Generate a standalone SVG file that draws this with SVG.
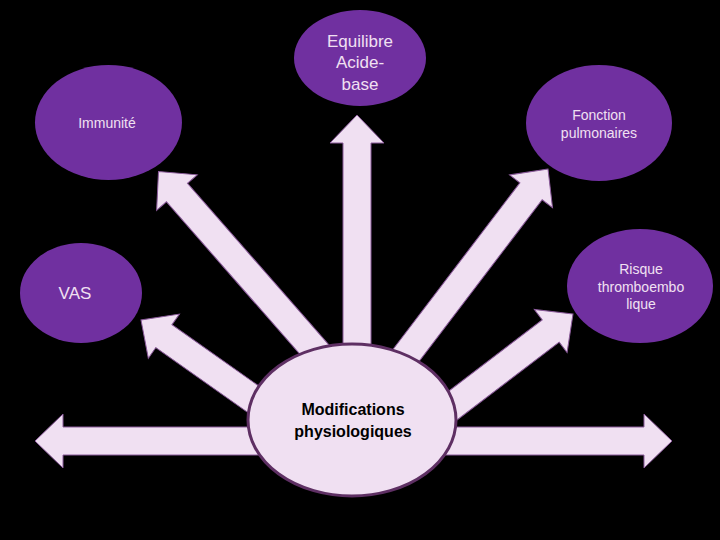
<svg xmlns="http://www.w3.org/2000/svg" width="720" height="540" viewBox="0 0 720 540">
  <style>
    .arrow { fill: #f0e0f2; stroke: #8a5a9a; stroke-width: 1; }
    .sat { fill: #7030a0; }
    .sat-text { fill: #f0e0f2; font-family: "Liberation Sans", Arial, sans-serif; text-anchor: middle; dominant-baseline: central; }
    .center { fill: #f0e0f2; stroke: #5e2f63; stroke-width: 3; }
    .center-text { fill: #000000; font-family: "Liberation Sans", Arial, sans-serif; font-weight: bold; font-size: 16px; text-anchor: middle; dominant-baseline: central; }
  </style>
  <rect x="0" y="0" width="720" height="540" fill="#000000"/>
  <g id="connectors">
    <path class="arrow" d="M35,441 L63,414 L63,427 L644,427 L644,414 L672,441 L644,468 L644,455 L63,455 L63,468 Z"/>
    <path class="arrow" transform="translate(357,115) rotate(-90)" d="M0,0 L-28,-27 L-28,-14 L-285,-14 L-285,14 L-28,14 L-28,27 Z"/>
    <path class="arrow" transform="translate(158.5,171.5) rotate(228.8)" d="M0,0 L-28,-27 L-28,-14 L-280,-14 L-280,14 L-28,14 L-28,27 Z"/>
    <path class="arrow" transform="translate(548,169) rotate(-52.7)" d="M0,0 L-28,-27 L-28,-14 L-270,-14 L-270,14 L-28,14 L-28,27 Z"/>
    <path class="arrow" transform="translate(141,320) rotate(215.2)" d="M0,0 L-28,-27 L-28,-14 L-220,-14 L-220,14 L-28,14 L-28,27 Z"/>
    <path class="arrow" transform="translate(573,314) rotate(-37.3)" d="M0,0 L-28,-27 L-28,-14 L-230,-14 L-230,14 L-28,14 L-28,27 Z"/>
  </g>
  <g id="node-center">
    <ellipse class="center" cx="352" cy="420" rx="104" ry="76"/>
    <text class="center-text" x="353" y="409">Modifications</text>
    <text class="center-text" x="353" y="431">physiologiques</text>
  </g>
  <g id="node-equilibre">
    <ellipse class="sat" cx="360" cy="58" rx="66" ry="48"/>
    <text class="sat-text" font-size="17" x="360" y="41">Equilibre</text>
    <text class="sat-text" font-size="17" x="360" y="62">Acide-</text>
    <text class="sat-text" font-size="17" x="360" y="84">base</text>
  </g>
  <g id="node-immunite">
    <ellipse class="sat" cx="108.5" cy="122.5" rx="73.5" ry="57.5"/>
    <text class="sat-text" font-size="14" x="107" y="123">Immunité</text>
  </g>
  <g id="node-fonction">
    <ellipse class="sat" cx="599" cy="123" rx="73" ry="58"/>
    <text class="sat-text" font-size="14" x="599" y="115">Fonction</text>
    <text class="sat-text" font-size="14" x="599" y="133">pulmonaires</text>
  </g>
  <g id="node-vas">
    <ellipse class="sat" cx="81" cy="293" rx="61" ry="50"/>
    <text class="sat-text" font-size="17" x="75" y="293">VAS</text>
  </g>
  <g id="node-risque">
    <ellipse class="sat" cx="640" cy="286" rx="73" ry="57"/>
    <text class="sat-text" font-size="14" x="641" y="269">Risque</text>
    <text class="sat-text" font-size="14" x="641" y="287">thromboembo</text>
    <text class="sat-text" font-size="14" x="641" y="304">lique</text>
  </g>
</svg>
